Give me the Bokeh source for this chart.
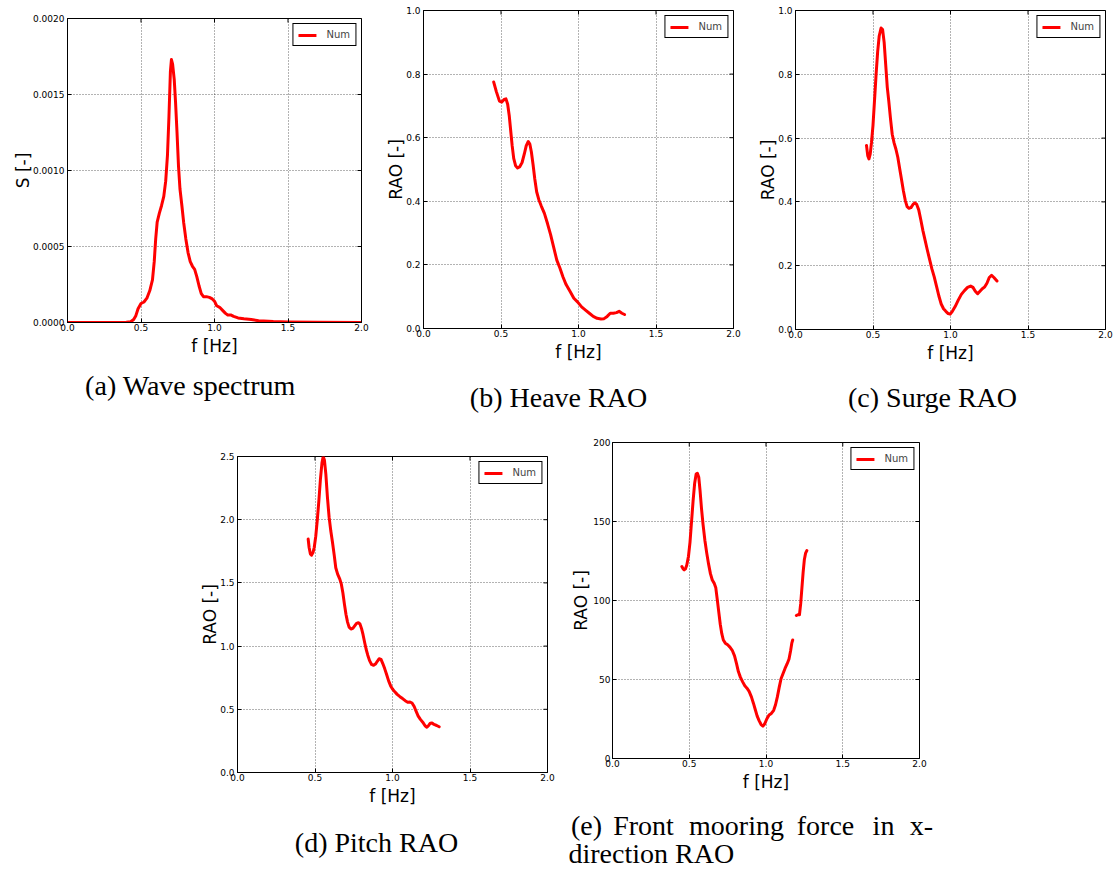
import numpy as np
from bokeh.plotting import figure
from bokeh.layouts import column, row, Spacer
from bokeh.models import Range1d, FixedTicker, PrintfTickFormatter
from bokeh.core.properties import value
from bokeh.embed import file_html
from bokeh.resources import INLINE

# ---------------- data ----------------
# (a) wave spectrum
f_spec = [0.00, 0.40, 0.43, 0.45, 0.465, 0.48, 0.50, 0.52, 0.54, 0.56, 0.578, 0.59, 0.60, 0.61,
          0.625, 0.64, 0.655, 0.668, 0.68, 0.69, 0.70, 0.707, 0.715, 0.726, 0.735, 0.745, 0.755,
          0.765, 0.778, 0.79, 0.805, 0.82, 0.835, 0.85, 0.865, 0.88, 0.895, 0.91, 0.925, 0.945,
          0.965, 0.985, 1.00, 1.015, 1.035, 1.055, 1.075, 1.09, 1.11, 1.13, 1.16, 1.20, 1.25,
          1.30, 1.40, 1.50, 1.70, 2.00]
s_spec = [0.0, 0.000002, 0.000005, 0.00002, 0.000045, 0.00009, 0.000125, 0.000135, 0.00016,
          0.00021, 0.00028, 0.00040, 0.00055, 0.00066, 0.00072, 0.00077, 0.00083, 0.00093,
          0.00110, 0.00135, 0.00165, 0.00173, 0.00170, 0.00160, 0.00145, 0.00125, 0.00103,
          0.00088, 0.00077, 0.00066, 0.00055, 0.00046, 0.00040, 0.00037, 0.00035, 0.00030,
          0.00024, 0.00019, 0.00017, 0.00017, 0.000165, 0.000155, 0.00014, 0.00011, 0.0001,
          0.00008, 0.00006, 0.00005, 0.00005, 0.00004, 0.00003, 0.000025, 0.00002, 0.000012,
          0.000006, 0.000004, 0.000002, 0.0]

# (b) heave RAO
f_heave = [0.453, 0.470, 0.490, 0.505, 0.520, 0.532, 0.543, 0.553, 0.562, 0.572, 0.582, 0.594,
           0.607, 0.620, 0.636, 0.650, 0.663, 0.676, 0.686, 0.696, 0.707, 0.718, 0.730, 0.744,
           0.760, 0.780, 0.800, 0.820, 0.840, 0.860, 0.880, 0.900, 0.920, 0.945, 0.970, 0.995,
           1.020, 1.045, 1.070, 1.095, 1.120, 1.145, 1.165, 1.185, 1.205, 1.225, 1.245, 1.262,
           1.280, 1.297]
rao_heave = [0.775, 0.745, 0.715, 0.712, 0.720, 0.722, 0.705, 0.670, 0.625, 0.575, 0.535, 0.512,
             0.505, 0.508, 0.522, 0.548, 0.575, 0.588, 0.580, 0.555, 0.515, 0.470, 0.430, 0.405,
             0.385, 0.362, 0.330, 0.295, 0.255, 0.215, 0.190, 0.162, 0.138, 0.117, 0.095, 0.083,
             0.068, 0.058, 0.048, 0.038, 0.032, 0.030, 0.031, 0.038, 0.048, 0.048, 0.050, 0.054,
             0.048, 0.044]

# (c) surge RAO
f_surge = [0.458, 0.466, 0.474, 0.482, 0.490, 0.500, 0.510, 0.520, 0.530, 0.540, 0.552, 0.562,
           0.572, 0.582, 0.592, 0.602, 0.613, 0.624, 0.636, 0.648, 0.660, 0.672, 0.684, 0.696,
           0.708, 0.720, 0.732, 0.745, 0.758, 0.770, 0.782, 0.795, 0.808, 0.822, 0.836, 0.850,
           0.865, 0.880, 0.895, 0.910, 0.925, 0.940, 0.955, 0.970, 0.985, 0.998, 1.012, 1.030,
           1.050, 1.070, 1.090, 1.110, 1.130, 1.145, 1.160, 1.175, 1.190, 1.205, 1.220, 1.235,
           1.250, 1.265, 1.280, 1.300]
rao_surge = [0.577, 0.545, 0.535, 0.550, 0.585, 0.640, 0.720, 0.800, 0.870, 0.920, 0.945, 0.940,
             0.900, 0.830, 0.760, 0.715, 0.660, 0.612, 0.585, 0.565, 0.540, 0.505, 0.470, 0.435,
             0.405, 0.385, 0.380, 0.382, 0.392, 0.397, 0.392, 0.375, 0.345, 0.310, 0.280, 0.250,
             0.220, 0.190, 0.165, 0.135, 0.105, 0.080, 0.065, 0.057, 0.050, 0.048, 0.057, 0.072,
             0.092, 0.110, 0.122, 0.132, 0.136, 0.132, 0.120, 0.112, 0.120, 0.128, 0.133, 0.145,
             0.163, 0.170, 0.163, 0.152]

# (d) pitch RAO
f_pitch = [0.456, 0.462, 0.470, 0.478, 0.487, 0.495, 0.505, 0.515, 0.525, 0.535, 0.545, 0.553,
           0.561, 0.570, 0.580, 0.591, 0.602, 0.613, 0.624, 0.634, 0.646, 0.660, 0.670, 0.680,
           0.690, 0.700, 0.710, 0.720, 0.732, 0.744, 0.756, 0.768, 0.780, 0.790, 0.800, 0.810,
           0.820, 0.830, 0.840, 0.852, 0.865, 0.878, 0.890, 0.902, 0.914, 0.926, 0.938, 0.950,
           0.962, 0.975, 0.988, 1.000, 1.015, 1.030, 1.048, 1.065, 1.082, 1.098, 1.113, 1.126,
           1.140, 1.152, 1.165, 1.180, 1.195, 1.210, 1.222, 1.232, 1.244, 1.255, 1.268, 1.285,
           1.301]
rao_pitch = [1.847, 1.78, 1.73, 1.72, 1.74, 1.78, 1.87, 2.00, 2.15, 2.32, 2.45, 2.50, 2.47, 2.36,
             2.18, 2.02, 1.91, 1.82, 1.72, 1.62, 1.57, 1.53, 1.49, 1.42, 1.33, 1.25, 1.19, 1.15,
             1.135, 1.140, 1.160, 1.180, 1.185, 1.175, 1.140, 1.090, 1.030, 0.975, 0.930, 0.885,
             0.855, 0.848, 0.858, 0.880, 0.900, 0.895, 0.860, 0.820, 0.775, 0.725, 0.685, 0.660,
             0.638, 0.618, 0.600, 0.585, 0.568, 0.556, 0.558, 0.550, 0.522, 0.485, 0.448, 0.420,
             0.398, 0.370, 0.358, 0.370, 0.390, 0.392, 0.380, 0.372, 0.362]

# (e) front mooring force RAO (gap in the record between the two segments)
f_moor = [0.452, 0.460, 0.467, 0.475, 0.484, 0.495, 0.505, 0.515, 0.525, 0.535, 0.545, 0.553,
          0.562, 0.570, 0.580, 0.590, 0.602, 0.614, 0.626, 0.638, 0.650, 0.662, 0.673, 0.682,
          0.692, 0.702, 0.712, 0.722, 0.735, 0.750, 0.765, 0.780, 0.795, 0.808, 0.820, 0.833,
          0.848, 0.862, 0.876, 0.890, 0.905, 0.918, 0.930, 0.942, 0.955, 0.968, 0.980, 0.992,
          1.005, 1.020, 1.035, 1.050, 1.062, 1.074, 1.086, 1.098, 1.110, 1.124, 1.138, 1.150,
          1.160, 1.168, 1.174, np.nan, 1.198, 1.207, 1.218, 1.226, 1.234, 1.242, 1.250, 1.258,
          1.266]
rao_moor = [121.5, 120, 119.4, 120, 122.5, 128, 137, 150, 163, 174, 180, 180.5, 178, 170, 158,
            148, 138, 130, 123, 117, 113, 111, 108, 101, 93, 85, 79, 75, 73, 72, 70.5, 68.5, 65,
            60, 55, 51.5, 48.5, 46, 44.5, 42.5, 39, 35, 31, 27, 24, 21.5, 20.5, 22, 25, 27.5,
            28.5, 30.5, 34, 39, 45, 50.5, 53.5, 57, 60, 63, 68, 73, 75, np.nan, 90.5, 91, 91, 98,
            108, 118, 126, 130, 131.6]

# ticks
x_ticks = [0.0, 0.5, 1.0, 1.5, 2.0]
spec_ticks = [0.0, 0.0005, 0.0010, 0.0015, 0.0020]
rao_ticks = [0.0, 0.2, 0.4, 0.6, 0.8, 1.0]
pitch_ticks = [0.0, 0.5, 1.0, 1.5, 2.0, 2.5]
moor_ticks = [0, 50, 100, 150, 200]

x_label = "f [Hz]"
legend_name = "Num"
captions_top = ["(a) Wave spectrum", "(b) Heave RAO", "(c) Surge RAO"]
caption_d = "(d) Pitch RAO"
caption_e1 = ["(e)", "Front", "mooring", "force", "in", "x-"]
caption_e2 = "direction RAO"

RED = "#ff0000"
SANS = "DejaVu Sans"
SERIF = "Liberation Serif"
X_MAX = 2.0


def panel(fx, fy, ymax, yticks, yfmt, ylabel, width, height, bl, br, bt, bb,
          ylab_standoff=-3, ytick_standoff=3):
    p = figure(width=width, height=height, x_range=Range1d(0, X_MAX), y_range=Range1d(0, ymax),
               output_backend="svg", toolbar_location=None,
               min_border_left=bl, min_border_right=br, min_border_top=bt, min_border_bottom=bb)
    p.frame_align = False
    p.background_fill_color = "white"
    p.border_fill_color = "white"
    p.outline_line_color = "black"
    p.outline_line_width = 1
    p.outline_line_alpha = 1

    xt = FixedTicker(ticks=x_ticks)
    yt = FixedTicker(ticks=yticks)
    for ax in p.xaxis:
        ax.ticker = xt
        ax.formatter = PrintfTickFormatter(format="%.1f")
        ax.axis_label = x_label
        ax.major_label_standoff = 1
        ax.axis_label_standoff = 2
    for ax in p.yaxis:
        ax.ticker = yt
        ax.formatter = PrintfTickFormatter(format=yfmt)
        ax.axis_label = ylabel
        ax.major_label_standoff = ytick_standoff
        ax.axis_label_standoff = ylab_standoff
    for ax in p.xaxis + p.yaxis:
        ax.major_tick_in = 4
        ax.major_tick_out = 0
        ax.minor_tick_in = 0
        ax.minor_tick_out = 0
        ax.minor_tick_line_color = None
        ax.axis_line_color = "black"
        ax.major_tick_line_color = "black"
        ax.major_label_text_font = SANS
        ax.major_label_text_font_size = "9px"
        ax.major_label_text_color = "black"
        ax.axis_label_text_font = SANS
        ax.axis_label_text_font_size = "17px"
        ax.axis_label_text_font_style = "normal"
        ax.axis_label_text_color = "black"

    p.xgrid.ticker = xt
    p.ygrid.ticker = yt
    for g in (p.xgrid, p.ygrid):
        g.grid_line_color = "black"
        g.grid_line_alpha = 0.75
        g.grid_line_width = 0.8
        g.grid_line_dash = "1 2"

    # inward tick marks on the top and right frame edges (outer half clipped by the frame)
    p.scatter(x=x_ticks, y=[ymax] * len(x_ticks), marker="dash", size=8, angle=np.pi / 2,
              line_color="black", line_width=1)
    p.scatter(x=[X_MAX] * len(yticks), y=yticks, marker="dash", size=8,
              line_color="black", line_width=1)

    p.line(fx, fy, line_color=RED, line_width=3, line_join="round", line_cap="round",
           legend_label=legend_name)
    lg = p.legend[0]
    lg.location = "top_right"
    lg.margin = 5
    lg.padding = 5
    lg.spacing = 0
    lg.glyph_width = 18
    lg.glyph_height = 10
    lg.label_height = 10
    lg.label_standoff = 10
    lg.label_text_font = SANS
    lg.label_text_font_size = "10px"
    lg.border_line_color = "black"
    lg.border_line_width = 1
    lg.border_line_alpha = 1
    lg.background_fill_alpha = 1
    return p


# row 1 (page y 0 -> 366)
pa = panel(f_spec, s_spec, 0.002, spec_ticks, "%.4f", "S [-]", 370, 366, 67, 9, 18, 44)
pb = panel(f_heave, rao_heave, 1.0, rao_ticks, "%.1f", "RAO [-]", 372, 366, 53, 9, 10, 38)
pc = panel(f_surge, rao_surge, 1.0, rao_ticks, "%.1f", "RAO [-]", 371, 366, 53, 8, 10, 37)

# row 2 (page y 415 -> 808)
pd = panel(f_pitch, rao_pitch, 2.5, pitch_ticks, "%.1f", "RAO [-]", 370, 393, 42, 18, 41, 33)
pe = panel(f_moor, rao_moor, 200, moor_ticks, "%d", "RAO [-]", 364, 393, 47, 10, 27, 50,
           ylab_standoff=-1, ytick_standoff=2)

PAGE_W = 1113


def caption_fig(y_top, height):
    c = figure(width=PAGE_W, height=height, x_range=Range1d(0, PAGE_W),
               y_range=Range1d(y_top + height, y_top), output_backend="svg",
               toolbar_location=None, min_border=0, x_axis_type=None, y_axis_type=None)
    c.frame_align = False
    c.outline_line_color = None
    c.background_fill_color = "white"
    c.border_fill_color = "white"
    return c


cap_style = dict(text_font=value(SERIF), text_font_size="28px", text_baseline="alphabetic",
                 text_color="black")

cap1 = caption_fig(366, 49)
cap1.text(x=[190, 558, 932], y=[385, 397, 397], text=captions_top, text_align="center",
          **cap_style)

cap2 = caption_fig(808, 62)
cap2.text(x=[376], y=[842], text=[caption_d], text_align="center", **cap_style)
cap2.text(x=[586, 643, 736, 825, 883, 921], y=[825] * 6, text=caption_e1, text_align="center",
          **cap_style)
cap2.text(x=[568], y=[853], text=[caption_e2], text_align="left", **cap_style)

layout = column(
    row(pa, pb, pc),
    cap1,
    row(Spacer(width=195, height=393), pd, pe),
    cap2,
)

open("out.html", "w").write(file_html(layout, INLINE))
